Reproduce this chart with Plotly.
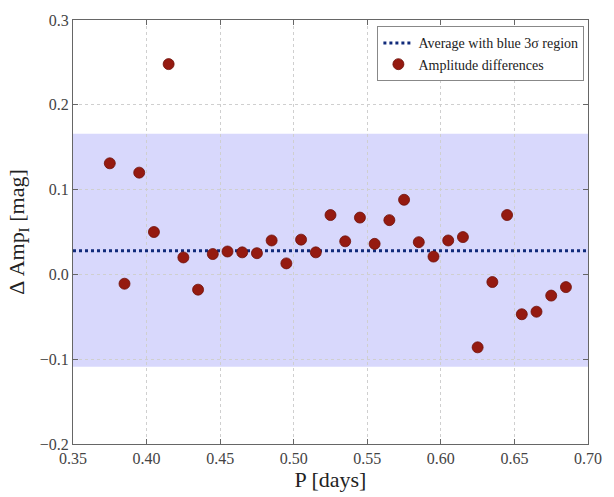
import plotly.graph_objects as go

period = [0.375, 0.385, 0.395, 0.405, 0.415, 0.425, 0.435, 0.445, 0.455, 0.465,
          0.475, 0.485, 0.495, 0.505, 0.515, 0.525, 0.535, 0.545, 0.555, 0.565,
          0.575, 0.585, 0.595, 0.605, 0.615, 0.625, 0.635, 0.645, 0.655, 0.665,
          0.675, 0.685]
amp_diff = [0.131, -0.011, 0.120, 0.050, 0.248, 0.020, -0.018, 0.024, 0.027, 0.026,
            0.025, 0.040, 0.013, 0.041, 0.026, 0.070, 0.039, 0.067, 0.036, 0.064,
            0.088, 0.038, 0.021, 0.040, 0.044, -0.086, -0.009, 0.070, -0.047, -0.044,
            -0.025, -0.015]
mean_value = 0.028
band_low = -0.109
band_high = 0.166
x_range = [0.35, 0.70]
y_range = [-0.2, 0.3]
x_ticks = [0.35, 0.40, 0.45, 0.50, 0.55, 0.60, 0.65, 0.70]
y_ticks = [-0.2, -0.1, 0.0, 0.1, 0.2, 0.3]

font_family = "Liberation Serif, DejaVu Serif, serif"

fig = go.Figure()
fig.add_shape(type="rect", xref="paper", yref="y", x0=0, x1=1, y0=band_low, y1=band_high,
              fillcolor="rgba(190,190,250,0.6)", line_width=0, layer="below")
fig.add_trace(go.Scatter(x=x_range, y=[mean_value, mean_value], mode="lines",
                         line=dict(color="#102a7a", width=3, dash="dot"),
                         name="Average with blue 3σ region"))
fig.add_trace(go.Scatter(x=period, y=amp_diff, mode="markers",
                         marker=dict(color="#951a10", size=11,
                                     line=dict(color="#6e1009", width=0.8)),
                         name="Amplitude differences"))

axis_common = dict(showline=True, linecolor="#666666", linewidth=1.2, mirror="ticks",
                   ticks="inside", ticklen=5, tickcolor="#666666",
                   showgrid=True, gridcolor="#cfcfcf", griddash="dot", gridwidth=1,
                   zeroline=False, tickfont=dict(size=16, color="#444444", family=font_family))

fig.update_xaxes(range=x_range, tickvals=x_ticks, tickformat=".2f",
                 title=dict(text="P [days]", font=dict(size=22, color="#222222", family=font_family),
                            standoff=2), **axis_common)
fig.update_yaxes(range=y_range, tickvals=y_ticks, tickformat=".1f",
                 title=dict(text="Δ Amp<sub>I</sub> [mag]", font=dict(size=22, color="#222222", family=font_family),
                            standoff=8), **axis_common)

fig.update_layout(
    width=614, height=497,
    margin=dict(l=73, r=15, t=15, b=45),
    paper_bgcolor="white", plot_bgcolor="white",
    font=dict(family=font_family),
    showlegend=True,
    legend=dict(x=0.993, xanchor="right", y=0.985, yanchor="top",
                bgcolor="white", bordercolor="#888888", borderwidth=1,
                font=dict(size=14, color="#222222", family=font_family),
                itemwidth=30, tracegroupgap=2),
)

fig.write_html("out.html")
